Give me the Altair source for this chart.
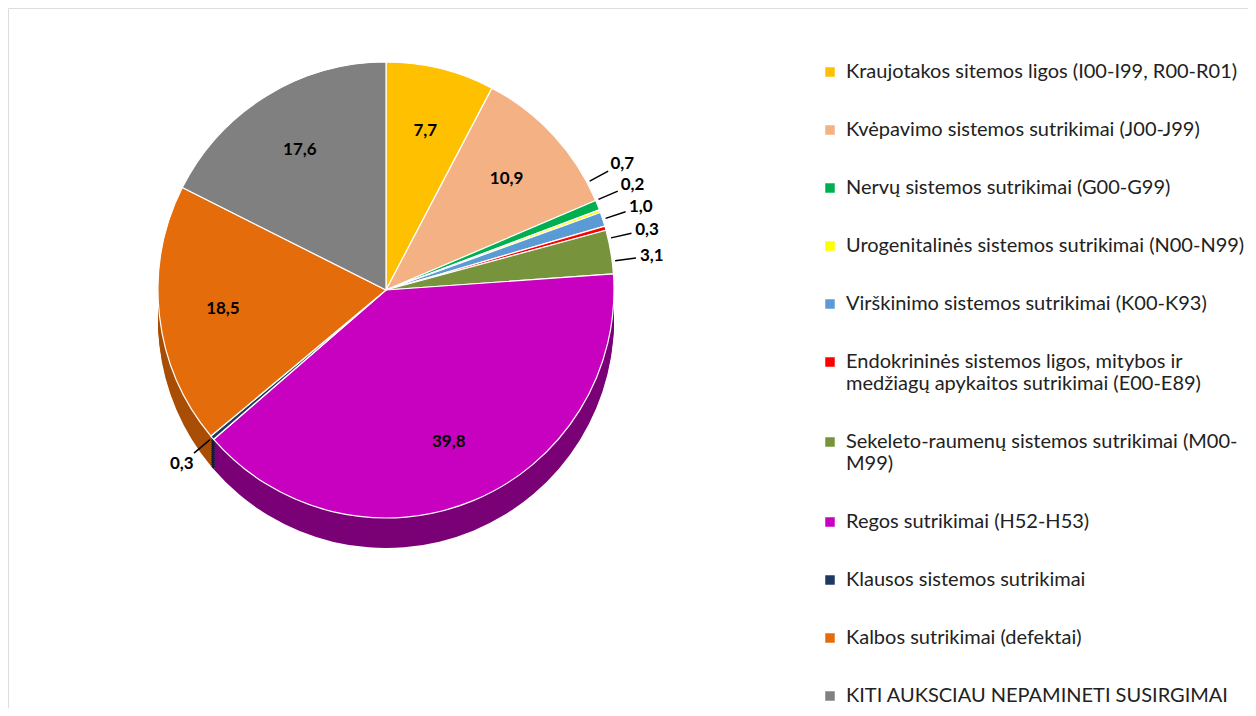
import math
import altair as alt
import pandas as pd

# ---- data -------------------------------------------------------------
categories = [
    "Kraujotakos sitemos ligos (I00-I99, R00-R01)",
    "Kvėpavimo sistemos sutrikimai (J00-J99)",
    "Nervų sistemos sutrikimai (G00-G99)",
    "Urogenitalinės sistemos sutrikimai (N00-N99)",
    "Virškinimo sistemos sutrikimai (K00-K93)",
    "Endokrininės sistemos ligos, mitybos ir\nmedžiagų apykaitos sutrikimai (E00-E89)",
    "Sekeleto-raumenų sistemos sutrikimai (M00-\nM99)",
    "Regos sutrikimai (H52-H53)",
    "Klausos sistemos sutrikimai",
    "Kalbos sutrikimai (defektai)",
    "KITI AUKSCIAU NEPAMINETI SUSIRGIMAI",
]
values = [7.7, 10.9, 0.7, 0.2, 1.0, 0.3, 3.1, 39.8, 0.3, 18.5, 17.6]
value_labels = ["7,7", "10,9", "0,7", "0,2", "1,0", "0,3", "3,1", "39,8", "0,3", "18,5", "17,6"]

# ---- styles -----------------------------------------------------------
colors = ["#FFC000", "#F4B183", "#00B050", "#FFFF00", "#5B9BD5", "#FF0000",
          "#77933C", "#C800C0", "#1F3864", "#E46C0A", "#808080"]
side_colors = ["#B08500", "#B07E5C", "#007A38", "#B0B000", "#3A6E9E", "#B00000",
               "#4E6327", "#7A0076", "#101E38", "#A94E06", "#5A5A5A"]
# label placement: outside flag, angular shift (in % of the pie)
outside = [False, False, True, True, True, True, True, False, True, False, False]
label_shift = [0, 0, -1.75, -0.8, 0.0, 0.75, 0.65, 0, 0, 0, 0]

CX, CY, R, DEPTH = 378, 282, 228, 30
FONT = "Lato"

df = pd.DataFrame({"cat": categories, "value": values, "lab": value_labels,
                   "side": side_colors})
df["order"] = range(len(df))
df["end"] = df["value"].cumsum()
df["start"] = df["end"] - df["value"]
df["mid"] = (df["start"] + df["end"]) / 2
df["lab_t"] = df["mid"] + pd.Series(label_shift)
df["lab_r"] = [R + 40 if o else R * 0.72 for o in outside]
df["lead_t1"] = df["lab_t"] - 0.05
df["lead_t2"] = df["lab_t"] + 0.05
total = float(df["end"].iloc[-1])

theta_scale = alt.Scale(domain=[0, total], range=[0, 2 * math.pi])

base = alt.Chart(df)

side_layers = []
for k in range(DEPTH, 0, -2):
    side_layers.append(
        base.mark_arc(stroke=None).encode(
            theta=alt.Theta("start:Q", scale=theta_scale),
            theta2="end:Q",
            radius=alt.value(R),
            x=alt.value(CX),
            y=alt.value(CY + k),
            fill=alt.Fill("side:N", scale=None),
        )
    )

pie = base.mark_arc(stroke="white", strokeWidth=1.2).encode(
    theta=alt.Theta("start:Q", scale=theta_scale),
    theta2="end:Q",
    radius=alt.value(R),
    x=alt.value(CX),
    y=alt.value(CY),
    color=alt.Color(
        "cat:N",
        sort=categories,
        scale=alt.Scale(domain=categories, range=colors),
        legend=alt.Legend(
            title=None, orient="none", direction="vertical",
            legendX=812, legendY=54,
            symbolType="square", symbolSize=90, symbolStrokeWidth=0,
            labelFont=FONT, labelFontSize=20, labelColor="#222222",
            labelLimit=440, rowPadding=38, labelOffset=6,
            labelExpr="split(datum.label, '\\n')",
        ),
    ),
    order=alt.Order("order:Q"),
)

leaders = base.transform_filter("datum.lab_r > %d" % R).mark_arc(
    color="black"
).encode(
    theta=alt.Theta("lead_t1:Q", scale=theta_scale),
    theta2="lead_t2:Q",
    radius=alt.value(R + 3),
    radius2=alt.value(R + 24),
    x=alt.value(CX),
    y=alt.value(CY),
)

labels = base.mark_text(font=FONT, fontSize=17, fontWeight="bold",
                        color="black").encode(
    theta=alt.Theta("lab_t:Q", scale=theta_scale),
    radius=alt.Radius("lab_r:Q", scale=None),
    x=alt.value(CX),
    y=alt.value(CY),
    text="lab:N",
)

chart = alt.layer(*side_layers, pie, leaders, labels).properties(
    width=1240, height=700, padding=0,
    autosize=alt.AutoSizeParams(type="fit", contains="padding"),
).configure_view(stroke=None).configure(background="white")

chart.save("out.html", embed_options={"renderer": "svg", "actions": False})
